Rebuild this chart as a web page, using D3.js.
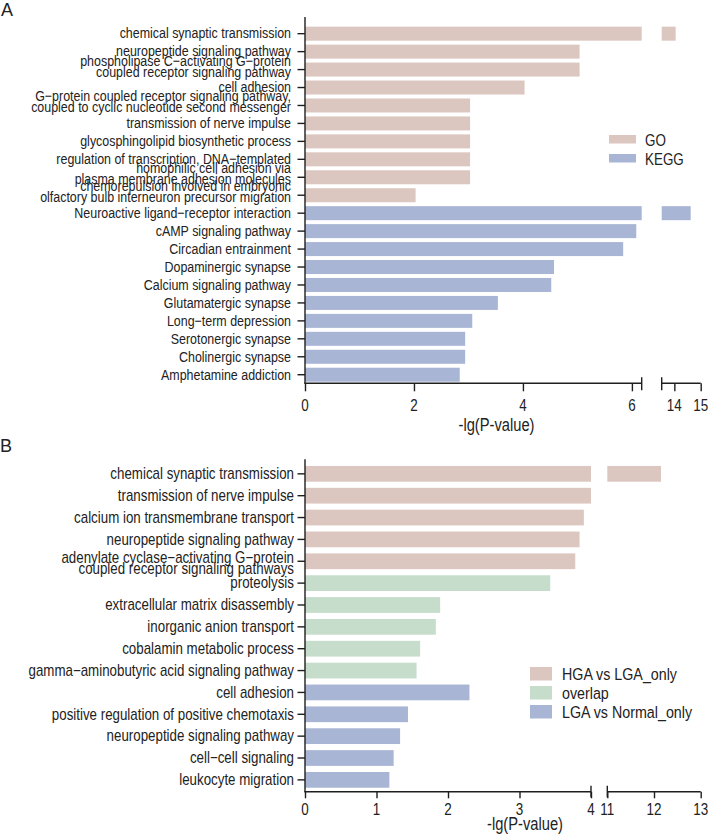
<!DOCTYPE html>
<html>
<head>
<meta charset="utf-8">
<script src="https://cdn.jsdelivr.net/npm/d3@7"></script>
<style>
  html, body { margin: 0; padding: 0; background: #fff; }
  text { font-family: "Liberation Sans", Arial, Helvetica, sans-serif; fill: #222; }
</style>
</head>
<body>
<script>
// ---------- DATA ----------
const categoriesA = [
  "chemical synaptic transmission",
  "neuropeptide signaling pathway",
  "phospholipase C\u2212activating G\u2212protein\ncoupled receptor signaling pathway",
  "cell adhesion",
  "G\u2212protein coupled receptor signaling pathway,\ncoupled to cyclic nucleotide second messenger",
  "transmission of nerve impulse",
  "glycosphingolipid biosynthetic process",
  "regulation of transcription, DNA\u2212templated",
  "homophilic cell adhesion via\nplasma membrane adhesion molecules",
  "chemorepulsion involved in embryonic\nolfactory bulb interneuron precursor migration",
  "Neuroactive ligand\u2212receptor interaction",
  "cAMP signaling pathway",
  "Circadian entrainment",
  "Dopaminergic synapse",
  "Calcium signaling pathway",
  "Glutamatergic synapse",
  "Long\u2212term depression",
  "Serotonergic synapse",
  "Cholinergic synapse",
  "Amphetamine addiction"
];
const valuesA = [14.05, 5.04, 5.04, 4.03, 3.03, 3.03, 3.03, 3.03, 3.03, 2.03,
                 14.62, 6.08, 5.84, 4.57, 4.52, 3.54, 3.07, 2.94, 2.94, 2.84];
const groupsA = ["GO","GO","GO","GO","GO","GO","GO","GO","GO","GO",
                 "KEGG","KEGG","KEGG","KEGG","KEGG","KEGG","KEGG","KEGG","KEGG","KEGG"];
const legendA = ["GO", "KEGG"];
const ticksA1 = [0, 2, 4, 6];
const ticksA2 = [14, 15];

const categoriesB = [
  "chemical synaptic transmission",
  "transmission of nerve impulse",
  "calcium ion transmembrane transport",
  "neuropeptide signaling pathway",
  "adenylate cyclase\u2212activating G\u2212protein\ncoupled receptor signaling pathways",
  "proteolysis",
  "extracellular matrix disassembly",
  "inorganic anion transport",
  "cobalamin metabolic process",
  "gamma\u2212aminobutyric acid signaling pathway",
  "cell adhesion",
  "positive regulation of positive chemotaxis",
  "neuropeptide signaling pathway",
  "cell\u2212cell signaling",
  "leukocyte migration"
];
const valuesB = [12.15, 4.0, 3.90, 3.84, 3.78, 3.43, 1.89, 1.83, 1.61, 1.56,
                 2.30, 1.44, 1.33, 1.24, 1.18];
const groupsB = ["HGA vs LGA_only","HGA vs LGA_only","HGA vs LGA_only","HGA vs LGA_only","HGA vs LGA_only",
                 "overlap","overlap","overlap","overlap","overlap",
                 "LGA vs Normal_only","LGA vs Normal_only","LGA vs Normal_only","LGA vs Normal_only","LGA vs Normal_only"];
const legendB = ["HGA vs LGA_only", "overlap", "LGA vs Normal_only"];
const ticksB1 = [0, 1, 2, 3, 4];
const ticksB2 = [11, 12, 13];

const axisTitle = "-lg(P-value)";

// ---------- STYLE ----------
const colorMap = {
  "GO": "#dcc6c0",
  "KEGG": "#a9b5d4",
  "HGA vs LGA_only": "#dcc6c0",
  "overlap": "#c6ddcc",
  "LGA vs Normal_only": "#a9b5d4"
};
const AX = "#1e1e1e";

const svg = d3.select("body").append("svg")
  .attr("width", 709).attr("height", 835);

function stext(g, x, y, str, size, sx, anchor) {
  return g.append("text")
    .attr("transform", `translate(${x},${y}) scale(${sx},1)`)
    .attr("font-size", size)
    .attr("text-anchor", anchor)
    .text(str);
}

function drawPanel(cfg) {
  const g = svg.append("g");
  const y = d3.scaleBand()
    .domain(d3.range(cfg.cats.length))
    .range(cfg.bandRange)
    .paddingInner(cfg.pi).paddingOuter(cfg.po);
  const x1 = d3.scaleLinear().domain(cfg.d1).range(cfg.r1);
  const x2 = d3.scaleLinear().domain(cfg.d2).range(cfg.r2);

  // bars
  cfg.vals.forEach((v, i) => {
    const col = colorMap[cfg.groups[i]];
    const v1 = Math.min(v, cfg.d1[1]);
    g.append("rect")
      .attr("x", x1(0)).attr("y", y(i))
      .attr("width", x1(v1) - x1(0)).attr("height", y.bandwidth())
      .attr("fill", col);
    if (v > cfg.d1[1]) {
      g.append("rect")
        .attr("x", x2(cfg.d2[0])).attr("y", y(i))
        .attr("width", x2(v) - x2(cfg.d2[0])).attr("height", y.bandwidth())
        .attr("fill", col);
    }
  });

  // y axis line and ticks
  g.append("line").attr("x1", x1(0)).attr("x2", x1(0))
    .attr("y1", cfg.axisTop).attr("y2", cfg.axisY)
    .attr("stroke", AX).attr("stroke-width", 1.4);
  cfg.cats.forEach((c, i) => {
    const cy = y(i) + y.bandwidth() / 2;
    g.append("line").attr("x1", x1(0) - 7.5).attr("x2", x1(0))
      .attr("y1", cy).attr("y2", cy)
      .attr("stroke", AX).attr("stroke-width", 1.4);
    const lines = c.split("\n");
    if (lines.length === 1) {
      stext(g, cfg.labelEnd, cy + cfg.single, c, cfg.labelFont, cfg.sx, "end");
    } else {
      stext(g, cfg.labelEnd, cy + cfg.two[0], lines[0], cfg.labelFont, cfg.sx, "end");
      stext(g, cfg.labelEnd, cy + cfg.two[1], lines[1], cfg.labelFont, cfg.sx, "end");
    }
  });

  // x axis (broken)
  const ay = cfg.axisY;
  const xa1 = g.append("g").attr("transform", `translate(0,${ay})`)
    .call(d3.axisBottom(x1).tickValues(cfg.t1).tickSize(cfg.tickLen).tickSizeOuter(0).tickFormat(d3.format("d")));
  const xa2 = g.append("g").attr("transform", `translate(0,${ay})`)
    .call(d3.axisBottom(x2).tickValues(cfg.t2).tickSize(cfg.tickLen).tickSizeOuter(0).tickFormat(d3.format("d")));
  [xa1, xa2].forEach(a => {
    a.select(".domain").remove();
    a.selectAll(".tick line").attr("stroke", AX).attr("stroke-width", 1.4);
    a.selectAll(".tick text").remove();
  });
  // tick labels
  cfg.t1.forEach(t => stext(g, x1(t), cfg.tickLabelY, String(t), cfg.tickFont, cfg.tsx, "middle"));
  cfg.t2.forEach(t => stext(g, x2(t), cfg.tickLabelY, String(t), cfg.tickFont, cfg.tsx, "middle"));
  // domain lines
  g.append("line").attr("x1", x1(0) - 0.7).attr("x2", x1(cfg.d1[1]))
    .attr("y1", ay).attr("y2", ay).attr("stroke", AX).attr("stroke-width", 1.4);
  g.append("line").attr("x1", x2(cfg.d2[0])).attr("x2", x2(cfg.d2[1]))
    .attr("y1", ay).attr("y2", ay).attr("stroke", AX).attr("stroke-width", 1.4);
  // break caps
  [x1(cfg.d1[1]), x2(cfg.d2[0])].forEach(bx => {
    g.append("line").attr("x1", bx).attr("x2", bx)
      .attr("y1", ay - 6).attr("y2", ay + cfg.tickLen - 1)
      .attr("stroke", AX).attr("stroke-width", 1.4);
  });
  // axis title
  stext(g, cfg.titleX, cfg.titleY, axisTitle, cfg.titleFont, cfg.tsx, "middle");

  // panel letter
  g.append("text").attr("x", cfg.letterX).attr("y", cfg.letterY)
    .attr("font-size", 18).text(cfg.letter);

  // legend
  cfg.legend.forEach((k, i) => {
    const ly = cfg.legY + i * cfg.legStep;
    g.append("rect").attr("x", cfg.legX).attr("y", ly)
      .attr("width", cfg.legW).attr("height", cfg.legH)
      .attr("fill", colorMap[k]);
    stext(g, cfg.legTextX, ly + cfg.legH + cfg.legDy, k, cfg.legFont, cfg.tsx, "start");
  });
}

drawPanel({
  letter: "A", letterX: 1, letterY: 16,
  cats: categoriesA, vals: valuesA, groups: groupsA,
  d1: [0, 6.18], r1: [305, 641.7], d2: [13.52, 15], r2: [661.7, 700.7],
  t1: ticksA1, t2: ticksA2,
  bandRange: [24.7, 383.7], pi: 0.22, po: 0.11,
  axisY: 383.3, axisTop: 17, tickLen: 8, tickLabelY: 410.5, tickFont: 16,
  titleX: 496.5, titleY: 430.5, titleFont: 17.5,
  labelEnd: 291, labelFont: 15, sx: 0.83, tsx: 0.84, single: 4.8, two: [-4, 7],
  legend: legendA, legX: 609, legY: 135, legW: 27, legH: 8.5, legStep: 19,
  legTextX: 645, legDy: 2, legFont: 16
});

drawPanel({
  letter: "B", letterX: 0, letterY: 452,
  cats: categoriesB, vals: valuesB, groups: groupsB,
  d1: [0, 4], r1: [305, 591], d2: [11, 13], r2: [607.3, 700.7],
  t1: ticksB1, t2: ticksB2,
  bandRange: [462.9, 790.8], pi: 0.28, po: 0.14,
  axisY: 791.7, axisTop: 459.3, tickLen: 6.6, tickLabelY: 815, tickFont: 16,
  titleX: 525, titleY: 830, titleFont: 17.5,
  labelEnd: 294, labelFont: 16, sx: 0.833, tsx: 0.84, single: 5.3, two: [1.5, 12.5],
  legend: legendB, legX: 530, legY: 667, legW: 22, legH: 13.5, legStep: 19,
  legTextX: 562, legDy: -0.5, legFont: 17
});
</script>
</body>
</html>
